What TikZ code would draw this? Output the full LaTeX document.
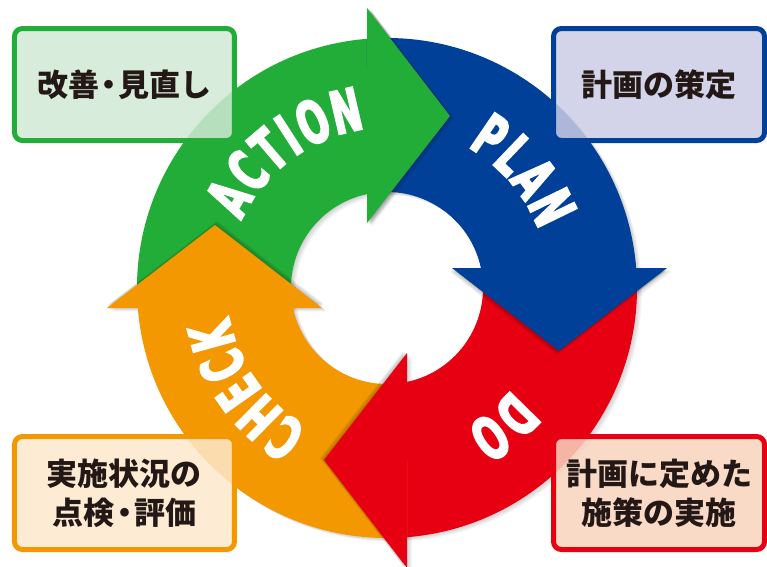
\documentclass[tikz,border=0pt]{standalone}
\usepackage{fontspec}
\newfontfamily\pdcafont{DejaVu Sans Bold}[FakeStretch=0.6, FakeBold=3]
\newfontfamily\jpfont{Noto Sans CJK JP}
\definecolor{cgreen}{RGB}{34,172,56}
\definecolor{cblue}{RGB}{0,64,152}
\definecolor{cred}{RGB}{230,0,18}
\definecolor{corange}{RGB}{243,152,0}
\definecolor{bgreen}{RGB}{209,233,213}
\definecolor{bblue}{RGB}{204,205,231}
\definecolor{borange}{RGB}{253,232,205}
\definecolor{bred}{RGB}{249,212,190}
\definecolor{ctext}{RGB}{35,24,21}
\begin{document}
\begin{tikzpicture}[x=1pt,y=1pt,
  lbl/.style={text=white, inner sep=0pt, font=\pdcafont\fontsize{59}{59}\selectfont},
  memo/.style={rounded corners=8pt, line width=5pt, inner sep=0pt, minimum height=112pt,
    text=ctext, fill opacity=0.85, text opacity=1, align=center,
    font=\jpfont\bfseries\fontsize{31}{39}\selectfont}]
\useasboundingbox[fill=white] (-387,-278) rectangle (380,288);
% soft shadow of the whole ring
\foreach \rot in {0,-90,-180,90}{
  \foreach \k in {1,...,4}{
    \begin{scope}[shift={(1.2*\k,-0.9*\k)}, rotate=\rot]
      \fill[black, opacity=0.045] (192.02:96) -- (184.59:250) arc[start angle=184.59, end angle=94.59, radius=250] -- (102.02:96) arc[start angle=102.02, end angle=192.02, radius=96] -- cycle
        (-20,280) -- (63,172) -- (-20,65) -- cycle;
    \end{scope}
  }
}
% ring bodies
\foreach \rot/\col in {0/cgreen,-90/cblue,-180/cred,90/corange}{
  \begin{scope}[rotate=\rot]
    \fill[\col] (192.02:96) -- (184.59:250) arc[start angle=184.59, end angle=94.59, radius=250] -- (102.02:96) arc[start angle=102.02, end angle=192.02, radius=96] -- cycle;
  \end{scope}
}
% arrow heads with their shadows
\foreach \rot/\col in {0/cgreen,-90/cblue,-180/cred,90/corange}{
  \begin{scope}[rotate=\rot]
    \foreach \k in {1,...,4}{
      \fill[black, opacity=0.06, shift={(1.0*\k,-0.5*\k)}] (-20,280) -- (63,172) -- (-20,65) -- cycle;
    }
    \fill[\col] (-20,280) -- (63,172) -- (-20,65) -- cycle;
  \end{scope}
}
% ACTION
\node[lbl, rotate=60.3] (a1) at (150.3:182) {A};
\node[lbl, rotate=50.1] (a2) at (140.1:182) {C};
\node[lbl, rotate=40.5] (a3) at (130.5:182) {T};
\node[lbl, rotate=32.8] (a4) at (122.8:182) {I};
\node[lbl, rotate=24.1] (a5) at (114.1:182) {O};
\node[lbl, rotate=13.1] (a6) at (103.1:182) {N};
% PLAN
\node[lbl, rotate=-34.3] (p1) at (55.7:184) {P};
\node[lbl, rotate=-43.7] (p2) at (46.3:184) {L};
\node[lbl, rotate=-53.3] (p3) at (36.7:184) {A};
\node[lbl, rotate=-64.0] (p4) at (26.0:184) {N};
% DO
\node[lbl, rotate=-134.4] (d1) at (-44.4:182) {D};
\node[lbl, rotate=-145.4] (d2) at (-55.4:182) {O};
% CHECK
\node[lbl, rotate=-214.2] (c1) at (-124.2:182) {C};
\node[lbl, rotate=-224.7] (c2) at (-134.7:182) {H};
\node[lbl, rotate=-234.8] (c3) at (-144.8:182) {E};
\node[lbl, rotate=-244.5] (c4) at (-154.5:182) {C};
\node[lbl, rotate=-254.6] (c5) at (-164.6:182) {K};
% boxes
\node[memo, draw=cgreen, fill=bgreen, minimum width=220pt] (boxA) at (-262.5,203.5) {改善{\kern-0.19em}・{\kern-0.19em}見直し};
\node[memo, draw=cblue, fill=bblue, minimum width=211pt] (boxP) at (272,203.5) {計画の策定};
\node[memo, draw=corange, fill=borange, minimum width=220pt, minimum height=113pt] (boxC) at (-262.5,-205) {実施状況の\\点検{\kern-0.19em}・{\kern-0.19em}評価};
\node[memo, draw=cred, fill=bred, minimum width=211pt, minimum height=113pt] (boxD) at (272,-205) {計画に定めた\\施策の実施};
\end{tikzpicture}
\end{document}
